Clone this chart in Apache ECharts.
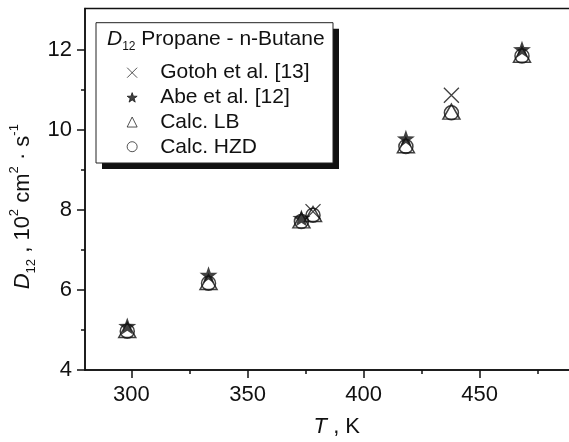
<!DOCTYPE html>
<html>
<head>
<meta charset="utf-8">
<script src="https://cdn.jsdelivr.net/npm/echarts@6/dist/echarts.min.js"></script>
<style>
  html, body { margin: 0; padding: 0; background: #fff; }
  #chart { width: 569px; height: 442px; }
</style>
</head>
<body>
<div id="chart"></div>
<script>
// Diffusion coefficient D12 of propane - n-butane vs temperature
const T_GOTOH = [378.2, 437.8];
const D_GOTOH = [7.96, 10.87];

const T_ABE = [298.2, 333.2, 373.2, 418.2, 468.2];
const D_ABE = [5.1, 6.38, 7.8, 9.79, 12.02];

const T_CALC = [298.2, 333.2, 373.2, 378.2, 418.2, 437.8, 468.2];
const D_LB  = [5.0, 6.2, 7.74, 7.9, 9.62, 10.46, 11.88];
const D_HZD = [4.97, 6.17, 7.71, 7.87, 9.59, 10.43, 11.85];

const X_MAJOR = [300, 350, 400, 450];
const X_MINOR = [325, 375, 425, 475];
const Y_MAJOR = [4, 6, 8, 10, 12];
const Y_MINOR = [5, 7, 9, 11];

const NAMES = ['Gotoh et al. [13]', 'Abe et al. [12]', 'Calc. LB', 'Calc. HZD'];

const zip = (xs, ys) => xs.map((x, i) => [x, ys[i]]);

const INK = '#111';
const FONT = '"Liberation Sans", Arial, Helvetica, sans-serif';
const STAR = 'path://M0,-10L2.35,-3.24L9.51,-3.09L3.8,1.24L5.88,8.09L0,4L-5.88,8.09L-3.8,1.24L-9.51,-3.09L-2.35,-3.24Z';
const CROSS = 'path://M0,0L10,10M0,10L10,0';

const axisLineStyle = { color: INK, width: 1.5 };

const chart = echarts.init(document.getElementById('chart'), null, { renderer: 'canvas' });

chart.setOption({
  animation: false,
  backgroundColor: '#fff',
  textStyle: { fontFamily: FONT, color: INK },
  grid: {
    left: 85, top: 8.4, right: -3.6, bottom: 72,
    show: true, borderColor: INK, borderWidth: 1.5,
    outerBoundsMode: 'none'
  },
  xAxis: [
    {
      type: 'value', min: 280, max: 490, position: 'bottom',
      splitLine: { show: false },
      axisLine: { lineStyle: axisLineStyle },
      axisTick: { customValues: X_MAJOR, length: 8, lineStyle: axisLineStyle },
      axisLabel: { customValues: X_MAJOR, fontSize: 22, color: INK, margin: 14, fontFamily: FONT },
      name: '{i|T}{n| , K}',
      nameLocation: 'middle',
      nameGap: 46,
      nameMoveOverlap: false,
      nameTextStyle: {
        fontSize: 22, color: INK, padding: [0, 0, 0, 16],
        rich: {
          i: { fontSize: 22, fontStyle: 'italic', fontFamily: FONT, color: INK },
          n: { fontSize: 22, fontFamily: FONT, color: INK }
        }
      }
    },
    {
      type: 'value', min: 280, max: 490, position: 'bottom',
      splitLine: { show: false },
      axisLine: { show: false },
      axisTick: { customValues: X_MINOR, length: 4, lineStyle: axisLineStyle },
      axisLabel: { show: false }
    }
  ],
  yAxis: [
    {
      type: 'value', min: 4, max: 13.04, position: 'left',
      splitLine: { show: false },
      axisLine: { lineStyle: axisLineStyle },
      axisTick: { customValues: Y_MAJOR, length: 8, lineStyle: axisLineStyle },
      axisLabel: { customValues: Y_MAJOR, fontSize: 22, color: INK, margin: 13, fontFamily: FONT },
      name: '{i|D}{sub|12}{n| , 10}{sup|2}{n| cm}{sup|2}{n| · s}{sup|-1}',
      nameLocation: 'middle',
      nameRotate: 90,
      nameGap: 47,
      nameMoveOverlap: false,
      nameTextStyle: {
        fontSize: 22, color: INK, padding: [0, 35, 0, 0],
        rich: {
          i: { fontSize: 22, fontStyle: 'italic', lineHeight: 30, fontFamily: FONT, color: INK },
          n: { fontSize: 22, lineHeight: 30, fontFamily: FONT, color: INK },
          sub: { fontSize: 13, lineHeight: 13, verticalAlign: 'bottom', fontFamily: FONT, color: INK },
          sup: { fontSize: 13, lineHeight: 13, verticalAlign: 'top', fontFamily: FONT, color: INK }
        }
      }
    },
    {
      type: 'value', min: 4, max: 13.04, position: 'left',
      splitLine: { show: false },
      axisLine: { show: false },
      axisTick: { customValues: Y_MINOR, length: 4, lineStyle: axisLineStyle },
      axisLabel: { show: false }
    }
  ],
  legend: {
    data: NAMES,
    orient: 'vertical',
    left: 126.7, top: 60.7, padding: 0,
    itemGap: 0.67, itemWidth: 10, itemHeight: 10,
    selectedMode: false,
    z: 10,
    itemStyle: { borderWidth: 0.9 },
    textStyle: { fontSize: 21, color: INK, lineHeight: 24, padding: [0, 0, 0, 18], fontFamily: FONT }
  },
  graphic: [
    { type: 'rect', z: 5, silent: true, shape: { x: 102, y: 28.7, width: 237, height: 140.3 }, style: { fill: INK } },
    { type: 'rect', z: 6, silent: true, shape: { x: 96, y: 22.7, width: 237, height: 140.3 }, style: { fill: '#fff', stroke: '#222', lineWidth: 1 } },
    {
      type: 'text', z: 7, silent: true,
      style: {
        x: 107, y: 39, align: 'left', verticalAlign: 'middle',
        text: '{i|D}{sub|12}{n| Propane - n-Butane}',
        rich: {
          i: { fontSize: 21, fontStyle: 'italic', lineHeight: 28, fontFamily: FONT, fill: INK },
          n: { fontSize: 21, lineHeight: 28, fontFamily: FONT, fill: INK },
          sub: { fontSize: 12, lineHeight: 12, verticalAlign: 'bottom', fontFamily: FONT, fill: INK }
        }
      }
    }
  ],
  series: [
    {
      name: NAMES[2], type: 'scatter', xAxisIndex: 0, yAxisIndex: 0,
      symbol: 'triangle', symbolSize: [17, 15],
      itemStyle: { color: 'rgba(255,255,255,0)', borderColor: INK, borderWidth: 1.5 },
      data: zip(T_CALC, D_LB), z: 2
    },
    {
      name: NAMES[3], type: 'scatter', xAxisIndex: 0, yAxisIndex: 0,
      symbol: 'circle', symbolSize: 14,
      itemStyle: { color: 'rgba(255,255,255,0)', borderColor: INK, borderWidth: 1.5 },
      data: zip(T_CALC, D_HZD), z: 3
    },
    {
      name: NAMES[0], type: 'scatter', xAxisIndex: 0, yAxisIndex: 0,
      symbol: CROSS, symbolSize: 15,
      itemStyle: { color: 'rgba(255,255,255,0)', borderColor: INK, borderWidth: 1.3 },
      data: zip(T_GOTOH, D_GOTOH), z: 4
    },
    {
      name: NAMES[1], type: 'scatter', xAxisIndex: 0, yAxisIndex: 0,
      symbol: STAR, symbolSize: 18, symbolKeepAspect: true,
      itemStyle: { color: INK, borderColor: INK, borderWidth: 0 },
      data: zip(T_ABE, D_ABE), z: 5
    }
  ]
});
</script>
</body>
</html>
